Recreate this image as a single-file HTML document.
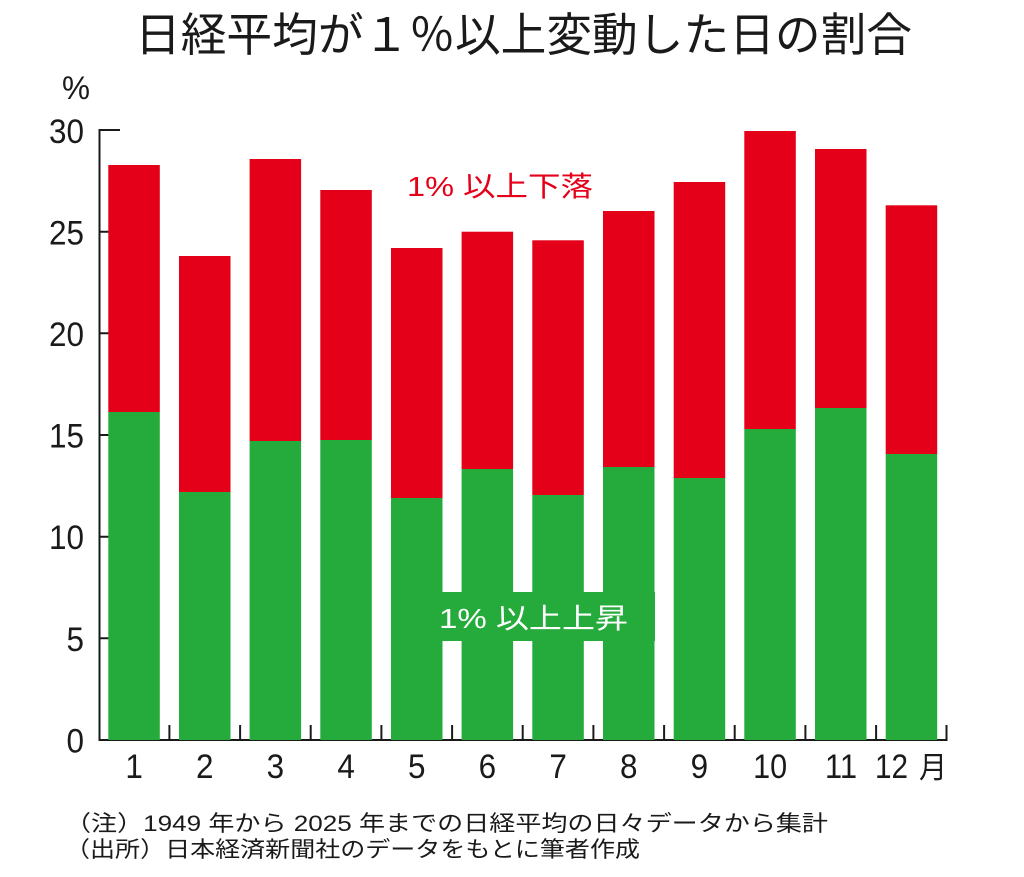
<!DOCTYPE html>
<html><head><meta charset="utf-8"><style>
html,body{margin:0;padding:0;background:#fff;}
svg{display:block;}
text{font-family:"Liberation Sans","Noto Sans CJK JP",sans-serif;}
</style></head><body>
<svg width="1024" height="877" viewBox="0 0 1024 877" xmlns="http://www.w3.org/2000/svg">
<rect width="1024" height="877" fill="#fff"/>
<text x="135" y="51" font-size="46" fill="#1a1a1a" textLength="777" lengthAdjust="spacingAndGlyphs" style="font-family:'Noto Sans CJK JP',sans-serif">日経平均が１％以上変動した日の割合</text>
<text x="62" y="99" font-size="32" fill="#1a1a1a" textLength="28" lengthAdjust="spacingAndGlyphs">%</text>
<g stroke="#1a1a1a" stroke-width="2" fill="none">
<line x1="99.5" y1="129" x2="99.5" y2="741"/>
<line x1="99" y1="740" x2="947.5" y2="740"/>
<line x1="99" y1="130" x2="120" y2="130"/>
<line x1="99" y1="231.7" x2="120" y2="231.7"/>
<line x1="99" y1="333.3" x2="120" y2="333.3"/>
<line x1="99" y1="435" x2="120" y2="435"/>
<line x1="99" y1="536.7" x2="120" y2="536.7"/>
<line x1="99" y1="638.3" x2="120" y2="638.3"/>
<line x1="169.4" y1="725" x2="169.4" y2="740"/>
<line x1="240.1" y1="725" x2="240.1" y2="740"/>
<line x1="310.7" y1="725" x2="310.7" y2="740"/>
<line x1="381.4" y1="725" x2="381.4" y2="740"/>
<line x1="452.1" y1="725" x2="452.1" y2="740"/>
<line x1="522.7" y1="725" x2="522.7" y2="740"/>
<line x1="593.4" y1="725" x2="593.4" y2="740"/>
<line x1="664.1" y1="725" x2="664.1" y2="740"/>
<line x1="734.7" y1="725" x2="734.7" y2="740"/>
<line x1="805.4" y1="725" x2="805.4" y2="740"/>
<line x1="876.1" y1="725" x2="876.1" y2="740"/>
<line x1="946.5" y1="725" x2="946.5" y2="741"/>
</g>
<g fill="#1a1a1a" font-size="34" text-anchor="end">
<text x="84" y="143" textLength="35" lengthAdjust="spacingAndGlyphs">30</text>
<text x="84" y="244.5" textLength="35" lengthAdjust="spacingAndGlyphs">25</text>
<text x="84" y="346" textLength="35" lengthAdjust="spacingAndGlyphs">20</text>
<text x="84" y="447.5" textLength="35" lengthAdjust="spacingAndGlyphs">15</text>
<text x="84" y="549" textLength="35" lengthAdjust="spacingAndGlyphs">10</text>
<text x="84" y="651" textLength="17.5" lengthAdjust="spacingAndGlyphs">5</text>
<text x="84" y="752.5" textLength="17.5" lengthAdjust="spacingAndGlyphs">0</text>
</g>
<g>
<rect x="108.3" y="165" width="51.5" height="247" fill="#e50019"/><rect x="108.3" y="412" width="51.5" height="328" fill="#25ab3c"/>
<rect x="179.0" y="256" width="51.5" height="236" fill="#e50019"/><rect x="179.0" y="492" width="51.5" height="248" fill="#25ab3c"/>
<rect x="249.6" y="159" width="51.5" height="282" fill="#e50019"/><rect x="249.6" y="441" width="51.5" height="299" fill="#25ab3c"/>
<rect x="320.3" y="190" width="51.5" height="250" fill="#e50019"/><rect x="320.3" y="440" width="51.5" height="300" fill="#25ab3c"/>
<rect x="391.0" y="248" width="51.5" height="250" fill="#e50019"/><rect x="391.0" y="498" width="51.5" height="242" fill="#25ab3c"/>
<rect x="461.6" y="231.7" width="51.5" height="237.3" fill="#e50019"/><rect x="461.6" y="469" width="51.5" height="271" fill="#25ab3c"/>
<rect x="532.3" y="240.3" width="51.5" height="254.7" fill="#e50019"/><rect x="532.3" y="495" width="51.5" height="245" fill="#25ab3c"/>
<rect x="603.0" y="211" width="51.5" height="256" fill="#e50019"/><rect x="603.0" y="467" width="51.5" height="273" fill="#25ab3c"/>
<rect x="673.7" y="182" width="51.5" height="296" fill="#e50019"/><rect x="673.7" y="478" width="51.5" height="262" fill="#25ab3c"/>
<rect x="744.3" y="131" width="51.5" height="298" fill="#e50019"/><rect x="744.3" y="429" width="51.5" height="311" fill="#25ab3c"/>
<rect x="815.0" y="149" width="51.5" height="259" fill="#e50019"/><rect x="815.0" y="408" width="51.5" height="332" fill="#25ab3c"/>
<rect x="885.7" y="205.3" width="51.5" height="248.7" fill="#e50019"/><rect x="885.7" y="454" width="51.5" height="286" fill="#25ab3c"/>
</g>
<rect x="391.5" y="592" width="263.5" height="49" fill="#25ab3c"/>
<text x="439" y="628" font-size="28" fill="#fff" textLength="189" lengthAdjust="spacingAndGlyphs">1% 以上上昇</text>
<text x="407" y="196" font-size="28" fill="#e50019" textLength="186" lengthAdjust="spacingAndGlyphs">1% 以上下落</text>
<g fill="#1a1a1a" font-size="34" text-anchor="middle">
<text x="134.1" y="778" textLength="17.5" lengthAdjust="spacingAndGlyphs">1</text>
<text x="204.8" y="778" textLength="17.5" lengthAdjust="spacingAndGlyphs">2</text>
<text x="275.4" y="778" textLength="17.5" lengthAdjust="spacingAndGlyphs">3</text>
<text x="346.1" y="778" textLength="17.5" lengthAdjust="spacingAndGlyphs">4</text>
<text x="416.8" y="778" textLength="17.5" lengthAdjust="spacingAndGlyphs">5</text>
<text x="487.4" y="778" textLength="17.5" lengthAdjust="spacingAndGlyphs">6</text>
<text x="558.1" y="778" textLength="17.5" lengthAdjust="spacingAndGlyphs">7</text>
<text x="628.8" y="778" textLength="17.5" lengthAdjust="spacingAndGlyphs">8</text>
<text x="699.4" y="778" textLength="17.5" lengthAdjust="spacingAndGlyphs">9</text>
<text x="770.1" y="778" textLength="34" lengthAdjust="spacingAndGlyphs">10</text>
<text x="841" y="778" textLength="32" lengthAdjust="spacingAndGlyphs">11</text>
<text x="891.5" y="778" textLength="33" lengthAdjust="spacingAndGlyphs">12</text>
</g>
<text x="919" y="778" font-size="30" fill="#1a1a1a" textLength="28" lengthAdjust="spacingAndGlyphs">月</text>
<text x="65" y="831" font-size="22" fill="#1a1a1a" textLength="763" lengthAdjust="spacingAndGlyphs">（注）1949 年から 2025 年までの日経平均の日々データから集計</text>
<text x="65" y="857" font-size="22" fill="#1a1a1a" textLength="575" lengthAdjust="spacingAndGlyphs">（出所）日本経済新聞社のデータをもとに筆者作成</text>
</svg>
</body></html>
